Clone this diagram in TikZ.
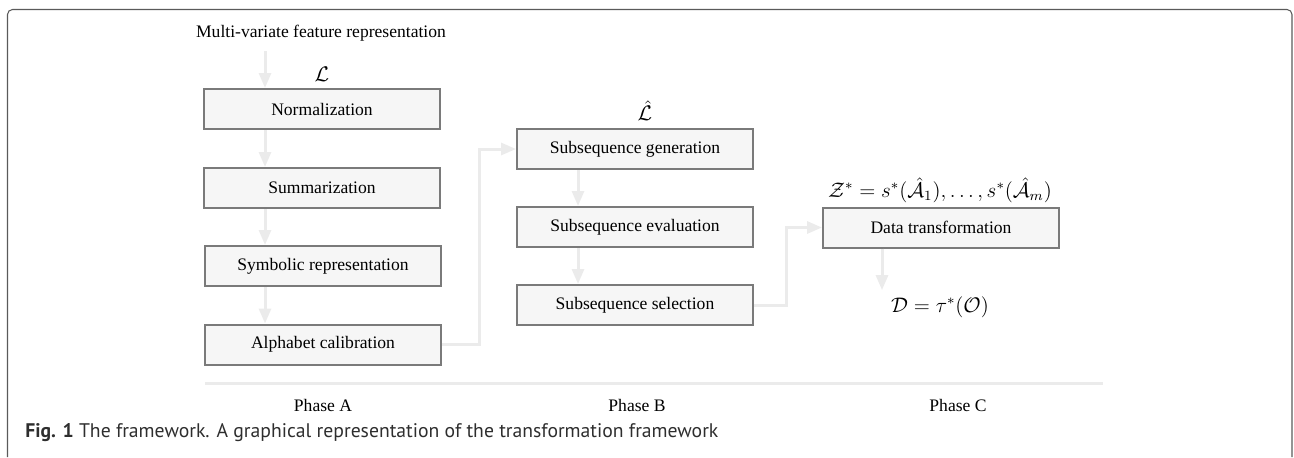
\documentclass[tikz,border=0pt]{standalone}
\usepackage{amsmath,amssymb}
\usepackage{fontspec}
\setmainfont{Liberation Serif}
\newfontfamily\capfont{PT Sans}
\usepackage{tikz}
\usetikzlibrary{arrows.meta,positioning}
\definecolor{fwbox}{HTML}{F6F6F6}
\definecolor{fwedge}{HTML}{7A7A7A}
\definecolor{fwflow}{HTML}{EBEBEB}
\definecolor{fwframe}{HTML}{5A5A5A}
\definecolor{fwcap}{HTML}{2E2E2E}

\begin{document}
\begin{tikzpicture}[x=0.02cm,y=-0.02cm,
  stage/.style={draw=fwedge,fill=fwbox,line width=0.04cm,minimum width=4.72cm,minimum height=0.8cm,inner sep=0pt,font=\fontsize{10}{12}\selectfont},
  flow/.style={fwflow,line width=0.06cm,-{Triangle[length=0.3cm,width=0.24cm]}},
  lbl/.style={font=\fontsize{10}{12}\selectfont,inner sep=0pt},
  mlbl/.style={font=\fontsize{12}{14}\selectfont,inner sep=0pt}]
  \useasboundingbox (0,0) rectangle (1294,457);
  \draw[fwframe,line width=0.6pt,rounded corners=0.1cm] (7.5,457) -- (7.5,9.5) -- (1292,9.5) -- (1292,457);
  \node[lbl] (input) at (321,33) {Multi-variate feature representation};
  \node[stage] (norm) at (322,109) {Normalization};
  \node[stage] (summ) at (322,188) {Summarization};
  \node[stage] (symb) at (323,266) {Symbolic representation};
  \node[stage] (alph) at (323,344.5) {Alphabet calibration};
  \node[mlbl] (lA) at (322,74) {$\mathcal{L}$};
  \node[stage] (gen) at (635,149) {Subsequence generation};
  \node[stage] (eval) at (635,227) {Subsequence evaluation};
  \node[stage] (sel) at (635,305) {Subsequence selection};
  \node[mlbl] (lB) at (645,111) {$\hat{\mathcal{L}}$};
  \node[stage] (trans) at (941,227.5) {Data transformation};
  \node[mlbl] (zC) at (940,190) {$\mathcal{Z}^*=s^*(\hat{\mathcal{A}}_1),\dots,s^*(\hat{\mathcal{A}}_m)$};
  \node[mlbl] (dC) at (940,307) {$\mathcal{D}=\tau^*(\mathcal{O})$};
  \coordinate (colA) at (265,0);
  \coordinate (colB) at (578,0);
  \coordinate (colC) at (882,0);
  \coordinate (jAB) at (479,0);
  \coordinate (jBC) at (786,0);
  \draw[flow,shorten <=0.2cm] (input.south -| colA) -- (norm.north -| colA);
  \draw[flow] (norm.south -| colA) -- (summ.north -| colA);
  \draw[flow] (summ.south -| colA) -- (symb.north -| colA);
  \draw[flow] (symb.south -| colA) -- (alph.north -| colA);
  \draw[flow] (alph.east) -- (alph.east -| jAB) |- (gen.west);
  \draw[flow] (gen.south -| colB) -- (eval.north -| colB);
  \draw[flow] (eval.south -| colB) -- (sel.north -| colB);
  \draw[flow] (sel.east) -- (sel.east -| jBC) |- (trans.west);
  \draw[flow,shorten >=0.12cm] (trans.south -| colC) -- (dC.north -| colC);
  \draw[fwflow,line width=0.06cm] (205,383) -- (1103,383);
  \node[lbl] (phA) at (323,405) {Phase A};
  \node[lbl] (phB) at (637,405) {Phase B};
  \node[lbl] (phC) at (958,405) {Phase C};
  \node[anchor=west,inner sep=0pt,text=fwcap,font=\capfont\fontsize{11.2}{13}\selectfont] (cap) at (25,433) {\textbf{Fig. 1} The framework. A graphical representation of the transformation framework};
\end{tikzpicture}
\end{document}
